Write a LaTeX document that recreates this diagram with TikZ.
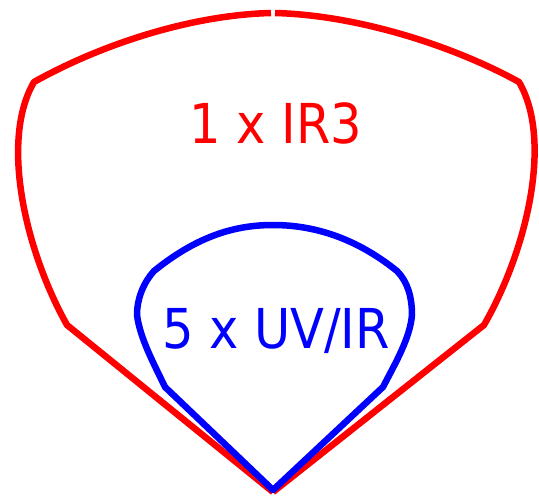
\documentclass[tikz,border=0pt]{standalone}
\usepackage{fontspec}
\setmainfont{DejaVu Sans Condensed}
\begin{document}
\begin{tikzpicture}[x=1pt,y=-1pt,
  redline/.style={draw=red,line width=6.5pt,line join=round},
  blueline/.style={draw=blue,line width=6.5pt,line join=round},
  lbl/.style={font=\fontsize{55}{60}\selectfont,anchor=base,inner sep=0pt}]
\useasboundingbox (0,0) rectangle (539,496);
% red outer shape
\coordinate (ra) at (273,492);
\coordinate (rl1) at (67,325);
\coordinate (rl2) at (34,82);
\coordinate (rt1) at (271,13);
\coordinate (rt2) at (275,13);
\coordinate (rr2) at (519,82);
\coordinate (rr1) at (484,325);
\draw[redline] (ra) -- (rl1) .. controls (25,250) and (0,140) .. (rl2)
  .. controls (100,45) and (190,15) .. (rt1);
\draw[redline] (rt2) .. controls (356,15) and (452,45) .. (rr2)
  .. controls (553,140) and (527,250) .. (rr1) -- (ra);
% blue inner shape
\coordinate (ba) at (273,490);
\coordinate (bl1) at (165,387);
\coordinate (bl2) at (137,315);
\coordinate (bl3) at (154,271);
\coordinate (br3) at (397,271);
\coordinate (br2) at (412,315);
\coordinate (br1) at (383,387);
\draw[blueline] (ba) -- (bl1) .. controls (153,362) and (140,338) .. (bl2)
  .. controls (137,298) and (144,282) .. (bl3)
  .. controls (195,238) and (232,225) .. (273,225)
  .. controls (314,225) and (356,238) .. (br3)
  .. controls (408,282) and (412,298) .. (br2)
  .. controls (410,338) and (396,362) .. (br1) -- cycle;
\node[lbl,text=red] (t1) at (276,143) {1 x IR3};
\node[lbl,text=blue] (t2) at (276,348) {5 x UV/IR};
\end{tikzpicture}
\end{document}
